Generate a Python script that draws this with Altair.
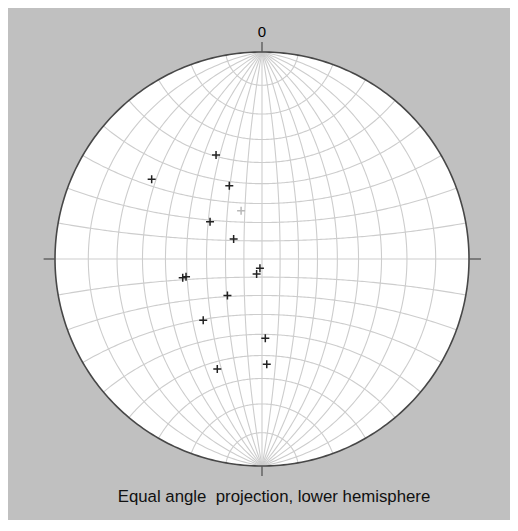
import altair as alt
import numpy as np
import pandas as pd

# Plotted poles, projected positions on the unit net (x = east, y = north)
pt_x = [-0.222, -0.533, -0.158, -0.101, -0.251, -0.137, -0.010, -0.026,
        -0.383, -0.367, -0.167, -0.284, 0.016, 0.023, -0.216]
pt_y = [0.502, 0.385, 0.354, 0.233, 0.180, 0.097, -0.045, -0.072,
        -0.090, -0.086, -0.176, -0.296, -0.383, -0.509, -0.531]
pt_kind = ["data", "data", "data", "faint", "data", "data", "data", "data",
           "data", "data", "data", "data", "data", "data", "data"]

# Wulff net: meridians and parallels every 10 degrees
meridian_lon = list(range(-80, 90, 10))
parallel_lat = list(range(-80, 90, 10))

north_label = "0"
caption = "Equal angle\u00a0 projection, lower hemisphere"

R_PX = 207


def stereo(lon_deg, lat_deg):
    lam = np.radians(lon_deg)
    phi = np.radians(lat_deg)
    d = 1 + np.cos(phi) * np.cos(lam)
    return np.cos(phi) * np.sin(lam) / d, np.sin(phi) / d


rows = []
sweep = np.linspace(-90, 90, 181)
for lon in meridian_lon:
    xs, ys = stereo(np.full_like(sweep, lon), sweep)
    for i, (a, b) in enumerate(zip(xs, ys)):
        rows.append({"id": f"m{lon}", "o": i, "x": a, "y": b})
for lat in parallel_lat:
    xs, ys = stereo(sweep, np.full_like(sweep, lat))
    for i, (a, b) in enumerate(zip(xs, ys)):
        rows.append({"id": f"p{lat}", "o": i, "x": a, "y": b})
grid = pd.DataFrame(rows)

t = np.linspace(0, 2 * np.pi, 361)
prim = pd.DataFrame({"o": range(len(t)), "x": np.sin(t), "y": np.cos(t)})

xd = np.linspace(-1, 1, 401)
disc = pd.DataFrame({"x": xd, "y": np.sqrt(np.clip(1 - xd ** 2, 0, None)),
                     "y2": -np.sqrt(np.clip(1 - xd ** 2, 0, None))})

ticks = pd.DataFrame({
    "x": [0, 0, -1.055, 1.0],
    "x2": [0, 0, -1.0, 1.058],
    "y": [1.0, -1.0, 0, 0],
    "y2": [1.048, -1.048, 0, 0],
})

pts = pd.DataFrame({"x": pt_x, "y": pt_y, "kind": pt_kind})

X = alt.X("x:Q", scale=alt.Scale(domain=[-1, 1], nice=False, zero=False), axis=None)
Y = alt.Y("y:Q", scale=alt.Scale(domain=[-1, 1], nice=False, zero=False), axis=None)

disc_l = alt.Chart(disc).mark_area(color="white", orient="vertical").encode(
    x=X, y=Y, y2="y2:Q")

grid_l = alt.Chart(grid).mark_line(color="#cdcdcd", strokeWidth=1.1).encode(
    x=X, y=Y, detail="id:N", order="o:Q")

prim_l = alt.Chart(prim).mark_line(color="#474747", strokeWidth=1.6).encode(
    x=X, y=Y, order="o:Q")

tick_l = alt.Chart(ticks).mark_rule(color="#555555", strokeWidth=1.3).encode(
    x=X, y=Y, x2="x2:Q", y2="y2:Q")

plus = "M-1,0L1,0M0,-1L0,1"
pts_l = alt.Chart(pts).mark_point(shape=plus, size=64, filled=False,
                                  strokeWidth=1.5, opacity=1).encode(
    x=X, y=Y,
    color=alt.Color("kind:N", scale=alt.Scale(domain=["data", "faint"],
                                              range=["#222222", "#b8b8b8"]),
                    legend=None))

lab = pd.DataFrame({"x": [0.0], "y": [1.097], "t": [north_label]})
lab_l = alt.Chart(lab).mark_text(fontSize=15, font="Liberation Sans",
                                 color="#000000", baseline="middle").encode(
    x=X, y=Y, text="t:N")

cap = pd.DataFrame({"x": [0.058], "y": [-1.15], "t": [caption]})
cap_l = alt.Chart(cap).mark_text(fontSize=16.8, font="Liberation Sans",
                                 color="#111111", baseline="middle").encode(
    x=X, y=Y, text="t:N")

chart = alt.layer(disc_l, grid_l, prim_l, tick_l, pts_l, lab_l, cap_l).properties(
    width=2 * R_PX, height=2 * R_PX,
    padding={"left": 47, "top": 44, "right": 41, "bottom": 54},
    autosize=alt.AutoSizeParams(type="none"),
    background="#c0c0c0",
).configure_view(strokeWidth=0)

chart.save("out.html", embed_options={"renderer": "svg", "actions": False})
